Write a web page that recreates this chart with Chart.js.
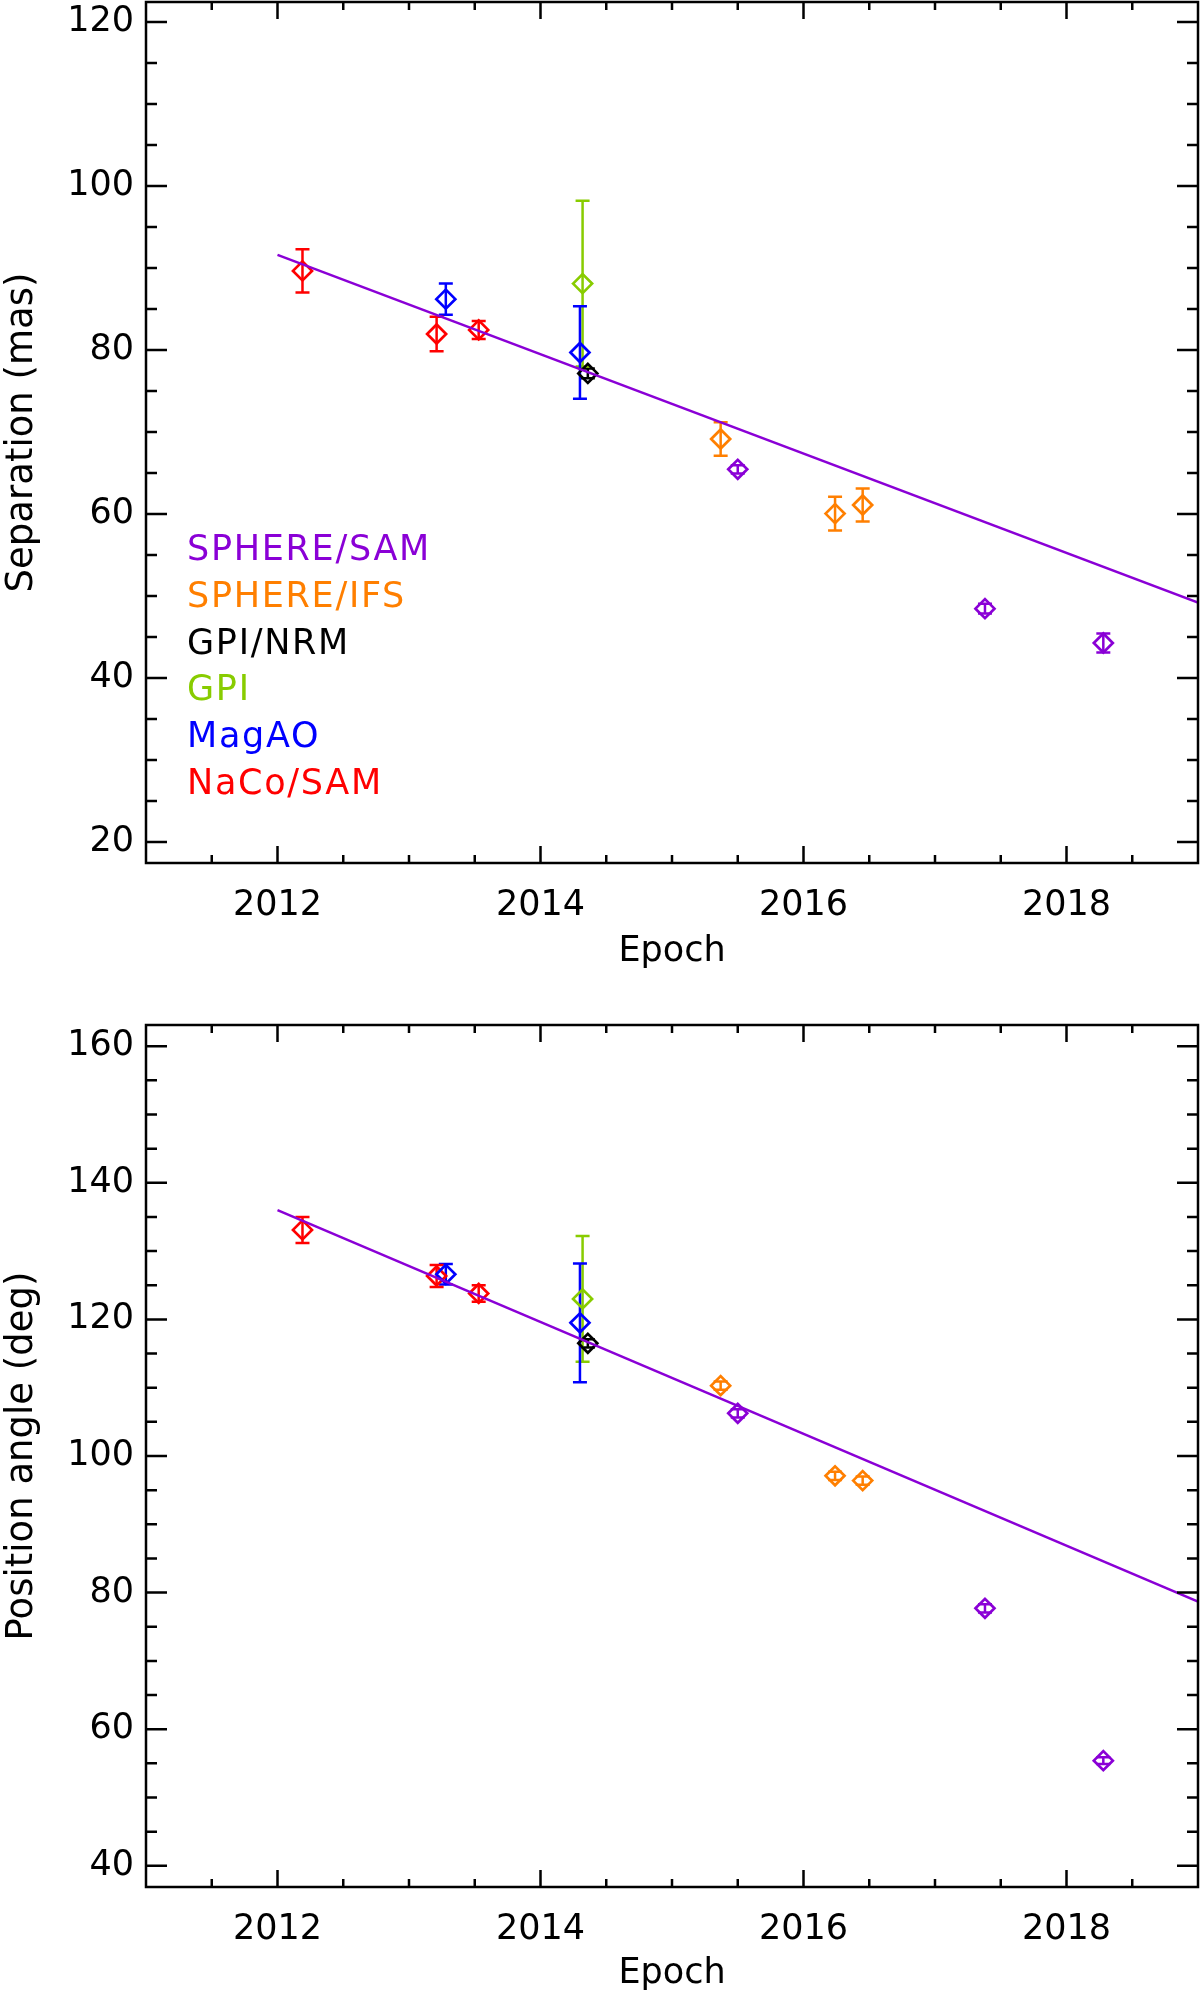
<!DOCTYPE html>
<html>
<head>
<meta charset="utf-8">
<title>Separation and position angle vs epoch</title>
<script src="https://cdn.jsdelivr.net/npm/chart.js"></script>
<style>
  html, body { margin: 0; padding: 0; background: #fff; }
  canvas { display: block; }
</style>
</head>
<body>
<canvas id="sepChart" width="1200" height="1000"></canvas>
<canvas id="paChart" width="1200" height="997"></canvas>
<script>
// instruments, in legend order (top to bottom)
const instruments = ['SPHERE/SAM', 'SPHERE/IFS', 'GPI/NRM', 'GPI', 'MagAO', 'NaCo/SAM'];
const instrumentColors = ['#8a00d6', '#ff7f00', '#000000', '#88cc00', '#0000ff', '#ff0000'];

// epochs per instrument
const samEpoch = [2015.50, 2017.38, 2018.28];
const ifsEpoch = [2015.37, 2016.24, 2016.45];
const nrmEpoch = [2014.36];
const gpiEpoch = [2014.32];
const magaoEpoch = [2013.28, 2014.30];
const nacoEpoch = [2012.19, 2013.21, 2013.53];

// separation (mas) and errors
const samSep = [65.45, 48.46, 44.27];
const samSepErr = [0.5, 0.6, 1.15];
const ifsSep = [69.15, 60.05, 61.1];
const ifsSepErr = [2.05, 2.05, 2.0];
const nrmSep = [77.15];
const nrmSepErr = [0.6];
const gpiSep = [88.1];
const gpiSepErr = [10.1];
const magaoSep = [86.2, 79.7];
const magaoSepErr = [1.9, 5.65];
const nacoSep = [89.65, 81.95, 82.45];
const nacoSepErr = [2.65, 2.1, 1.1];

// position angle (deg) and errors
const samPA = [106.25, 77.7, 55.4];
const samPAErr = [0.6, 0.6, 0.5];
const ifsPA = [110.3, 97.1, 96.4];
const ifsPAErr = [0.6, 0.6, 0.6];
const nrmPA = [116.5];
const nrmPAErr = [0.6];
const gpiPA = [123.0];
const gpiPAErr = [9.2];
const magaoPA = [126.6, 119.5];
const magaoPAErr = [1.5, 8.7];
const nacoPA = [133.1, 126.35, 123.8];
const nacoPAErr = [1.9, 1.6, 1.2];

// straight-line fit, end points
const fitEpoch = [2012.0, 2019.0];
const fitSep = [91.6, 49.2];
const fitPA = [136.0, 78.7];

// axes
const xRange = [2011, 2019];
const xMajorTicks = [2012, 2014, 2016, 2018];
const xMinorTicks = [2011.5, 2012.5, 2013, 2013.5, 2014.5, 2015, 2015.5, 2016.5, 2017, 2017.5, 2018.5];
const sepRange = [17.44, 122.44];
const sepMajorTicks = [20, 40, 60, 80, 100, 120];
const paRange = [36.9, 163.1];
const paMajorTicks = [40, 60, 80, 100, 120, 140, 160];

const FONT = { family: "'DejaVu Sans', sans-serif", size: 35 };

function minorFor(range, step) {
  const out = [];
  for (let v = Math.ceil(range[0] / step) * step; v <= range[1]; v += step) out.push(v);
  return out;
}

// error bars behind the diamonds
const errorBars = {
  id: 'errorBars',
  beforeDatasetsDraw(chart) {
    const ctx = chart.ctx;
    const ys = chart.scales.y;
    chart.data.datasets.forEach((ds, i) => {
      if (!ds.errors) return;
      const meta = chart.getDatasetMeta(i);
      ctx.save();
      ctx.strokeStyle = ds.borderColor;
      ctx.lineWidth = 2.5;
      meta.data.forEach((pt, j) => {
        const v = ds.data[j].y, e = ds.errors[j];
        const y1 = ys.getPixelForValue(v + e), y2 = ys.getPixelForValue(v - e);
        ctx.beginPath();
        ctx.moveTo(pt.x, y1); ctx.lineTo(pt.x, y2);
        ctx.moveTo(pt.x - 7, y1); ctx.lineTo(pt.x + 7, y1);
        ctx.moveTo(pt.x - 7, y2); ctx.lineTo(pt.x + 7, y2);
        ctx.stroke();
      });
      ctx.restore();
    });
  }
};

// IDL style box with inward ticks on all sides
const frame = {
  id: 'frame',
  afterDraw(chart) {
    const ctx = chart.ctx;
    const a = chart.chartArea;
    const xs = chart.scales.x, ys = chart.scales.y;
    ctx.save();
    ctx.strokeStyle = '#000';
    ctx.lineWidth = 2.5;
    ctx.strokeRect(a.left, a.top, a.right - a.left, a.bottom - a.top);
    ctx.beginPath();
    const xt = (v, len) => {
      const p = xs.getPixelForValue(v);
      ctx.moveTo(p, a.bottom); ctx.lineTo(p, a.bottom - len);
      ctx.moveTo(p, a.top); ctx.lineTo(p, a.top + len);
    };
    const yt = (v, len) => {
      const p = ys.getPixelForValue(v);
      ctx.moveTo(a.left, p); ctx.lineTo(a.left + len, p);
      ctx.moveTo(a.right, p); ctx.lineTo(a.right - len, p);
    };
    xs.ticks.forEach(t => xt(t.value, 17));
    xMinorTicks.forEach(v => xt(v, 8));
    ys.ticks.forEach(t => yt(t.value, 21));
    minorFor([ys.min, ys.max], 5).forEach(v => { if (v % 20 !== 0) yt(v, 11); });
    ctx.stroke();
    ctx.restore();
  }
};

// coloured text legend inside the top panel
const textLegend = {
  id: 'textLegend',
  afterDraw(chart, args, opts) {
    if (!opts.show) return;
    const ctx = chart.ctx;
    const a = chart.chartArea;
    ctx.save();
    ctx.font = FONT.size + 'px ' + FONT.family;
    ctx.letterSpacing = '1.7px';
    ctx.textAlign = 'left';
    ctx.textBaseline = 'alphabetic';
    instruments.forEach((name, i) => {
      ctx.fillStyle = instrumentColors[i];
      ctx.fillText(name, a.left + 41, a.top + 558 + i * 46.8);
    });
    ctx.restore();
  }
};

function points(xs, ys) {
  return xs.map((x, i) => ({ x: x, y: ys[i] }));
}

function makeChart(id, series, fitVals, yRange, yMajor, yTitle, pad, xHeight, xTitlePad) {
  const datasets = [{
    label: 'fit',
    data: points(fitEpoch, fitVals),
    showLine: true,
    borderColor: instrumentColors[0],
    borderWidth: 2.5,
    pointRadius: 0,
    fill: false
  }];
  series.forEach((s, i) => {
    datasets.push({
      label: instruments[i],
      data: points(s[0], s[1]),
      errors: s[2],
      borderColor: instrumentColors[i],
      backgroundColor: 'rgba(0,0,0,0)',
      pointStyle: 'rectRot',
      pointRadius: 9.5,
      borderWidth: 2.7
    });
  });
  return new Chart(document.getElementById(id), {
    type: 'scatter',
    data: { datasets: datasets },
    options: {
      responsive: false,
      animation: false,
      events: [],
      layout: { padding: pad, autoPadding: false },
      plugins: {
        legend: { display: false },
        tooltip: { enabled: false },
        textLegend: { show: id === 'sepChart' }
      },
      scales: {
        x: {
          type: 'linear', min: xRange[0], max: xRange[1],
          grid: { display: false, drawTicks: false },
          border: { display: false },
          afterBuildTicks: s => { s.ticks = xMajorTicks.map(v => ({ value: v })); },
          afterFit: s => { s.height = xHeight; s.paddingLeft = 0; s.paddingRight = 0; },
          ticks: { font: FONT, color: '#000', padding: 22, autoSkip: false, maxRotation: 0, callback: v => String(v) },
          title: { display: true, text: 'Epoch', font: FONT, color: '#000', padding: { top: 0, bottom: xTitlePad } }
        },
        y: {
          type: 'linear', min: yRange[0], max: yRange[1],
          grid: { display: false, drawTicks: false },
          border: { display: false },
          afterBuildTicks: s => { s.ticks = yMajor.map(v => ({ value: v })); },
          afterFit: s => { s.width = 146; s.paddingTop = 0; s.paddingBottom = 0; },
          ticks: { font: FONT, color: '#000', padding: 12, autoSkip: false, callback: v => String(v) },
          title: { display: true, text: yTitle, font: { family: FONT.family, size: 37 }, color: '#000', padding: { top: 0, bottom: 0 } }
        }
      }
    },
    plugins: [errorBars, frame, textLegend]
  });
}

const sepSeries = [
  [samEpoch, samSep, samSepErr],
  [ifsEpoch, ifsSep, ifsSepErr],
  [nrmEpoch, nrmSep, nrmSepErr],
  [gpiEpoch, gpiSep, gpiSepErr],
  [magaoEpoch, magaoSep, magaoSepErr],
  [nacoEpoch, nacoSep, nacoSepErr]
];
const paSeries = [
  [samEpoch, samPA, samPAErr],
  [ifsEpoch, ifsPA, ifsPAErr],
  [nrmEpoch, nrmPA, nrmPAErr],
  [gpiEpoch, gpiPA, gpiPAErr],
  [magaoEpoch, magaoPA, magaoPAErr],
  [nacoEpoch, nacoPA, nacoPAErr]
];

makeChart('sepChart', sepSeries, fitSep, sepRange, sepMajorTicks, 'Separation (mas)',
  { top: 2, right: 2, left: 0, bottom: 0 }, 137, 27);
makeChart('paChart', paSeries, fitPA, paRange, paMajorTicks, 'Position angle (deg)',
  { top: 25, right: 2, left: 0, bottom: 0 }, 110, 2);
</script>
</body>
</html>
